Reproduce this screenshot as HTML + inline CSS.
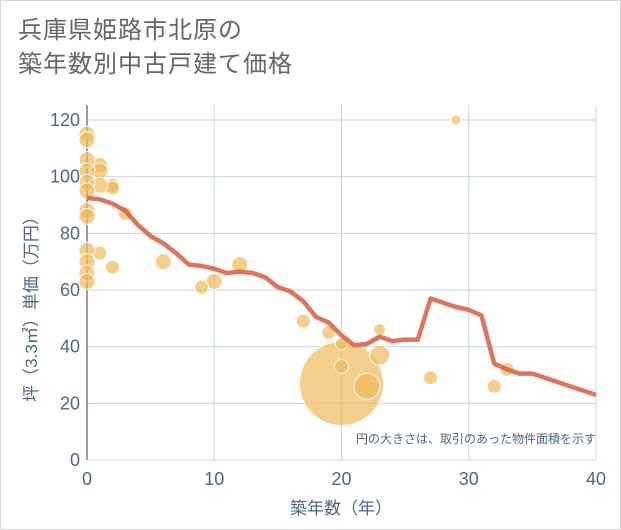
<!DOCTYPE html>
<html><head><meta charset="utf-8">
<style>
body{margin:0;background:#fff;}
#wrap{position:relative;width:619px;height:528px;border:1px solid #d8d8d8;background:#fff;}
.t{font-family:"Liberation Sans","Noto Sans CJK JP",sans-serif;}
</style></head>
<body>
<div id="wrap">
<div class="t" style="position:absolute;left:17px;top:13px;font-size:24px;line-height:34px;color:#666;letter-spacing:1px;">兵庫県姫路市北原の<br>築年数別中古戸建て価格</div>
<svg id="chart" width="621" height="530" style="position:absolute;left:-1px;top:-1px"></svg>
</div>
<script>
const xTicks=[0,10,20,30,40];
const yTicks=[0,20,40,60,80,100,120];
const lineYears=[0,1,2,3,4,5,6,7,8,9,10,11,12,13,14,15,16,17,18,19,20,21,22,23,24,25,26,27,28,29,30,31,32,33,34,35,36,37,38,39,40];
const lineValues=[92.5,92,90.5,88,83,79,76.5,73,69,68.5,67.5,66,66.5,66,64.5,61,59.5,56,50.5,48.5,44,40.5,41,43.5,42,42.5,42.5,57,55.5,54,53,51,34,32,30.5,30.5,29,27.5,26,24.5,23];
const bubbleYears=[20,22,23,23,20,20,19,17,27,29,32,33,12,10,9,6,3,2,2,1,1,1,2,1,0,0,0,0,0,0,0,0,0,0,0,0];
const bubbleValues=[27,26,37,46,33,41,45,49,29,120,26,32,69,63,61,70,87,97,96,104,102,97,68,73,115,113,106,102,98,95,88,86,74,70,66,63];
const bubbleSizes=[42,13,10,6,7,6,7,7,7,5,7,7,8,8,7,8,7,7,7,8,8,8,7,7,8,8,8,8,8,8,8,8,8,8,8,8];
const NS='http://www.w3.org/2000/svg';
const svg=document.getElementById('chart');
const X=v=>87+v*(596-87)/40;
const Y=v=>460-v*(340/120);
const TC='#506784';
function mk(t,a){const e=document.createElementNS(NS,t);for(const k in a)e.setAttribute(k,a[k]);svg.appendChild(e);return e;}
xTicks.forEach(v=>{
 const g=mk('line',{x1:X(v),x2:X(v),y1:105,y2:460,stroke:'#c8d4e3','stroke-width':1});
 
 
 const t=mk('text',{x:X(v),y:485,'text-anchor':'middle','font-size':18,fill:TC,class:'t'});t.textContent=v;
 
 
});
yTicks.forEach(v=>{
 const g=mk('line',{x1:87,x2:596,y1:Y(v),y2:Y(v),stroke:'#c8d4e3','stroke-width':1});
 
 
 const t=mk('text',{x:80,y:Y(v)+6,'text-anchor':'end','font-size':18,fill:TC,class:'t'});t.textContent=v;
 
 
});
const ax=mk('line',{x1:87,x2:87,y1:105,y2:460,stroke:'#2a3f5f','stroke-width':1});


bubbleYears.forEach((yr,i)=>{
 const c=mk('circle',{cx:X(yr),cy:Y(bubbleValues[i]),r:bubbleSizes[i],fill:'#f0b95a','fill-opacity':0.7,stroke:'#fff','stroke-width':1});
 
 
});
const p=mk('polyline',{points:lineYears.map((yr,i)=>X(yr)+','+Y(lineValues[i])).join(' '),fill:'none',stroke:'#d9654b','stroke-width':4.5,'stroke-opacity':0.9,'stroke-linejoin':'round'});


const n=mk('text',{x:596,y:443,'text-anchor':'end','font-size':12,fill:TC,class:'t'});n.textContent='円の大きさは、取引のあった物件面積を示す';


const xt=mk('text',{x:341,y:514,'text-anchor':'middle','font-size':17,fill:TC,class:'t'});xt.textContent='築年数（年）';


const yt=mk('text',{x:0,y:0,'text-anchor':'middle','font-size':17,fill:TC,class:'t',transform:'translate(37,305) rotate(-90)'});yt.textContent='坪（3.3㎡）単価（万円）';


</script>
</body></html>
